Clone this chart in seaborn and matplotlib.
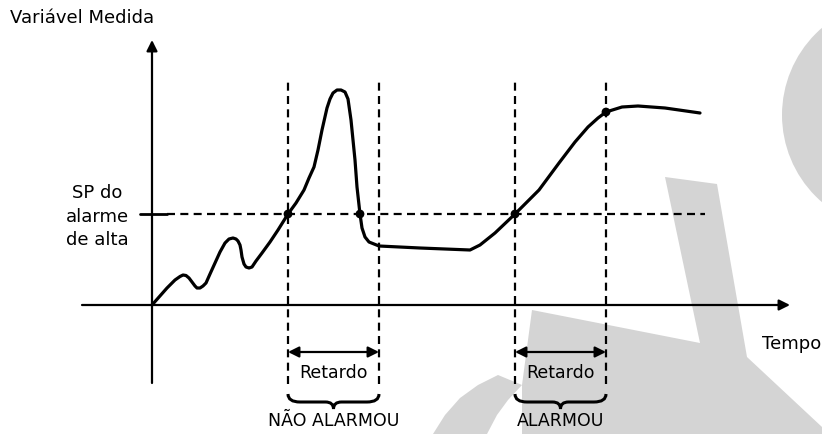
import matplotlib
matplotlib.use("Agg")
import matplotlib.pyplot as plt
import seaborn as sns
from matplotlib.patches import Polygon, Circle, PathPatch
from matplotlib.path import Path

# measured variable over time (origin of the axes = (0, 0))
curve_t = [0, 15, 23, 28, 31, 34, 37, 40, 43, 45, 48, 51, 54, 58, 63, 68, 73, 77, 81, 84,
           86, 88, 89, 90, 92, 94, 97, 100, 104, 110, 118, 126, 136, 144, 152, 157, 162,
           166, 170, 175, 178, 181, 185, 189, 193, 196, 199, 201, 203, 205, 208, 210, 213,
           217, 227, 268, 318, 328, 343, 363, 387, 407, 423, 436, 446, 454, 470, 486, 513, 548]
curve_v = [0, 17, 25, 28.5, 30, 29.5, 27, 23, 19, 17, 17, 19, 22, 31, 42, 53, 62, 66, 67, 66,
           64, 60, 55, 48, 41, 38, 37, 38, 44, 52, 63, 75, 91, 102, 115, 127, 138,
           155, 175, 197, 206, 212, 215, 215, 213, 206, 185, 165, 145, 118, 91, 77, 68,
           63, 59, 57, 55, 60, 72, 91, 115, 142, 163, 178, 187, 193, 198, 199, 197, 192]

setpoint = 91
event_t = [136, 227, 363, 454]
dot_t = [136, 208, 363, 454]
dot_v = [91, 91, 91, 193]
delay_spans = [(136, 227), (363, 454)]
delay_labels = ["NÃO ALARMOU", "ALARMOU"]

# light grey watermark in the background
wm_main = [(370, -80), (380, -5), (548, -38), (513, 128), (565, 121), (595, -52),
           (670, -122), (670, -140), (370, -140)]
wm_arc = [(346, -70), (326, -80), (308, -93), (293, -110), (281, -129),
          (335, -129), (345, -110), (356, -95), (370, -80)]
wm_circle = (745, 190, 115)

sns.set_theme(style="white")
plt.rcParams['font.family'] = ['DejaVu Sans']
plt.rcParams['text.color'] = 'black'

fig = plt.figure(figsize=(8.22, 4.34), dpi=100)
ax = fig.add_axes([0, 0, 1, 1])
ax.set_xlim(-152, 670)
ax.set_ylim(-129, 305)
ax.axis('off')

grey = '#d4d4d4'
ax.add_patch(Polygon(wm_main, closed=True, fc=grey, ec='none', zorder=0))
ax.add_patch(Polygon(wm_arc, closed=True, fc=grey, ec='none', zorder=0))
ax.add_patch(Circle(wm_circle[:2], wm_circle[2], fc=grey, ec='none', zorder=0))

# axes with arrows
arr = dict(arrowstyle='-|>', lw=1.6, color='black', mutation_scale=16, shrinkA=0, shrinkB=0)
ax.annotate('', xy=(0, 265), xytext=(0, -78), arrowprops=arr)
ax.annotate('', xy=(638, 0), xytext=(-70, 0), arrowprops=arr)

# set point
ax.plot([-12, 15], [setpoint, setpoint], color='black', lw=2)
ax.hlines(setpoint, 15, 553, colors='black', lw=1.6, linestyles=(0, (3.6, 2.4)))
ax.vlines(event_t, -79, 227, colors='black', lw=1.6, linestyles=(0, (3.6, 2.4)))

sns.lineplot(x=curve_t, y=curve_v, ax=ax, color='black', linewidth=2.3,
             sort=False, estimator=None)
sns.scatterplot(x=dot_t, y=dot_v, ax=ax, color='black', s=40, edgecolor='none', zorder=5)

darr = dict(arrowstyle='<|-|>', lw=1.6, color='black', mutation_scale=16, shrinkA=0, shrinkB=0)
for (t0, t1), lab in zip(delay_spans, delay_labels):
    mid = (t0 + t1) / 2
    ax.annotate('', xy=(t1, -47), xytext=(t0, -47), arrowprops=darr)
    ax.text(mid, -68, 'Retardo', ha='center', va='center', fontsize=12.5)
    verts = [(t0, -89), (t0, -97), (t0 + 12, -97), (mid - 8, -97), (mid, -97), (mid, -104),
             (mid, -97), (mid + 8, -97), (t1 - 12, -97), (t1, -97), (t1, -89)]
    codes = [Path.MOVETO, Path.CURVE3, Path.CURVE3, Path.LINETO, Path.CURVE3, Path.CURVE3,
             Path.CURVE3, Path.CURVE3, Path.LINETO, Path.CURVE3, Path.CURVE3]
    ax.add_patch(PathPatch(Path(verts, codes), fc='none', ec='black', lw=2.2))
    ax.text(mid, -116, lab, ha='center', va='center', fontsize=12.5)

ax.text(-142, 287, 'Variável Medida', ha='left', va='center', fontsize=13)
for v, s in zip([112, 88, 65], ['SP do', 'alarme', 'de alta']):
    ax.text(-55, v, s, ha='center', va='center', fontsize=13)
ax.text(610, -39, 'Tempo', ha='left', va='center', fontsize=13, clip_on=False)

fig.savefig('out.png', dpi=100)
